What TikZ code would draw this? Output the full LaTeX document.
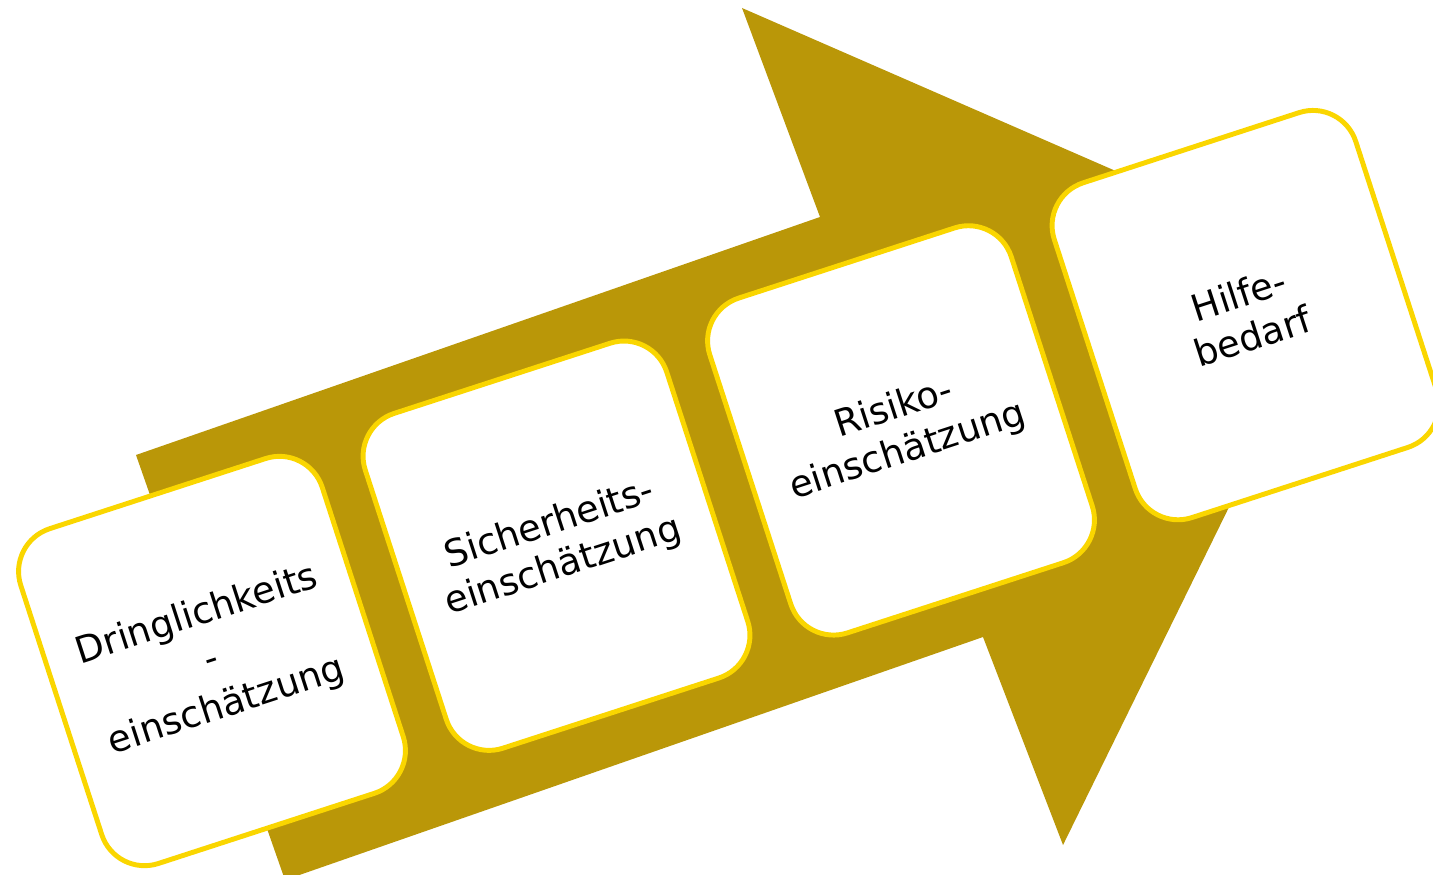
\documentclass[tikz,border=0pt]{standalone}
\usepackage{fontspec}
\setmainfont{DejaVu Sans}
\usepackage{tikz}
\definecolor{arrowgold}{RGB}{186, 151, 8}
\definecolor{rimyellow}{RGB}{250, 214, 0}

\begin{document}
\begin{tikzpicture}[line join=round,
    stage/.style={draw=rimyellow, line width=1.4pt, fill=white,
        rounded corners=0.45cm, minimum width=3.17cm, minimum height=3.52cm,
        align=center, rotate=18, inner sep=2pt,
        font=\fontsize{10.5}{12.6}\selectfont}]
    \useasboundingbox (0,0) rectangle (14.33,8.74);
    \clip (0,0) rectangle (14.33,8.74);

    % Großer Pfeil im Hintergrund (Achse ca. 19 Grad geneigt)
    \fill[arrowgold] (1.36,4.19) -- (8.20,6.57) -- (7.42,8.66) -- (13.45,6.03)
        -- (10.63,0.29) -- (9.83,2.37) -- (2.85,-0.06) -- cycle;

    % Die vier Stufen, gleichmäßig entlang der Pfeilachse
    \node[stage] (dring) at (2.12,2.13) {Dringlichkeits\\[1pt]-\\[1pt]einschätzung};
    \node[stage] (sicher) at (5.565,3.283) {Sicherheits-\\einschätzung};
    \node[stage] (risiko) at (9.01,4.436) {Risiko-\\einschätzung};
    \node[stage] (hilfe) at (12.455,5.589) {Hilfe-\\bedarf};
\end{tikzpicture}
\end{document}
